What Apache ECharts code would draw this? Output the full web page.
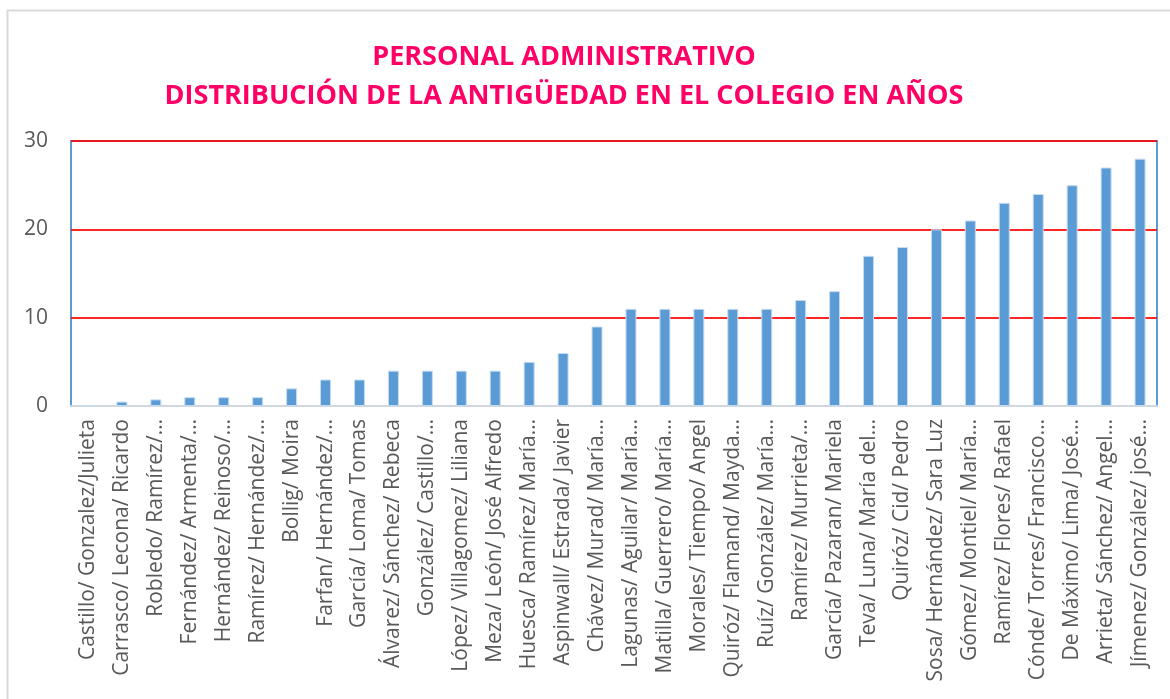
<!DOCTYPE html>
<html>
<head>
<meta charset="utf-8">
<script src="https://cdn.jsdelivr.net/npm/echarts@6/dist/echarts.min.js"></script>
<style>
  html, body { margin: 0; padding: 0; background: #fff; }
  #chart { width: 1170px; height: 699px; }
</style>
</head>
<body>
<div id="chart"></div>
<script>
// nombres tal como aparecen (recortados) en el eje
const nombres = [
  'Castillo/ Gonzalez/Julieta', 'Carrasco/ Lecona/ Ricardo', 'Robledo/ Ramírez/…',
  'Fernández/ Armenta/…', 'Hernández/ Reinoso/…', 'Ramírez/ Hernández/…',
  'Bollig/ Moira', 'Farfan/ Hernández/…', 'García/ Loma/ Tomas',
  'Álvarez/ Sánchez/ Rebeca', 'González/ Castillo/…', 'López/ Villagomez/ Liliana',
  'Meza/ León/ José Alfredo', 'Huesca/ Ramírez/ María…', 'Aspinwall/ Estrada/ Javier',
  'Chávez/ Murad/ María…', 'Lagunas/ Aguilar/ María…', 'Matilla/ Guerrero/ María…',
  'Morales/ Tiempo/ Angel', 'Quiróz/ Flamand/ Mayda…', 'Ruíz/ González/ María…',
  'Ramírez/ Murrieta/…', 'García/ Pazaran/ Mariela', 'Teva/ Luna/ María del…',
  'Quiróz/ Cid/ Pedro', 'Sosa/ Hernández/ Sara Luz', 'Gómez/ Montiel/ María…',
  'Ramírez/ Flores/ Rafael', 'Cónde/ Torres/ Francisco…', 'De Máximo/ Lima/ José…',
  'Arrieta/ Sánchez/ Angel…', 'Jímenez/ González/ josé…'
];
// antigüedad en años
const antiguedad = [
  0, 0.5, 0.75, 1, 1, 1, 2, 3, 3, 4, 4, 4, 4, 5, 6, 9,
  11, 11, 11, 11, 11, 12, 13, 17, 18, 20, 21, 23, 24, 25, 27, 28
];
const ticksY = [0, 10, 20, 30];

const chart = echarts.init(document.getElementById('chart'));
const fuente = '"Open Sans", "DejaVu Sans", sans-serif';

chart.setOption({
  backgroundColor: '#fff',
  animation: false,
  graphic: [{
    type: 'rect',
    shape: { x: 7.5, y: 10.5, width: 1200, height: 720 },
    style: { fill: 'none', stroke: '#d9d9d9', lineWidth: 2 },
    silent: true
  }],
  title: {
    text: 'PERSONAL ADMINISTRATIVO\nDISTRIBUCIÓN DE LA ANTIGÜEDAD EN EL COLEGIO EN AÑOS',
    left: 559,
    textAlign: 'center',
    top: 33,
    textStyle: {
      color: '#ff0066',
      fontFamily: fuente,
      fontWeight: 'bold',
      fontSize: 27,
      lineHeight: 39
    }
  },
  grid: {
    left: 71, right: 13, top: 141, bottom: 293,
    show: true,
    borderColor: '#5b9bd5',
    borderWidth: 2,
    backgroundColor: '#fff'
  },
  xAxis: {
    type: 'category',
    data: nombres,
    axisLine: { lineStyle: { color: '#d0d7e1', width: 2 } },
    axisTick: { show: false },
    axisLabel: {
      interval: 0,
      rotate: 90,
      margin: 13,
      color: '#595959',
      fontFamily: fuente,
      fontSize: 21
    }
  },
  yAxis: {
    type: 'value',
    min: ticksY[0],
    max: ticksY[ticksY.length - 1],
    interval: 10,
    axisLine: { show: false },
    axisTick: { show: false },
    axisLabel: {
      margin: 23,
      color: '#595959',
      fontFamily: fuente,
      fontSize: 21
    },
    splitLine: { lineStyle: { color: '#ff0000', width: 2, opacity: 0.85 } }
  },
  series: [{
    type: 'bar',
    data: antiguedad,
    barWidth: 11,
    itemStyle: {
      color: '#5b9bd5',
      borderColor: '#c5dcf0',
      borderWidth: 1
    }
  }]
});
</script>
</body>
</html>
